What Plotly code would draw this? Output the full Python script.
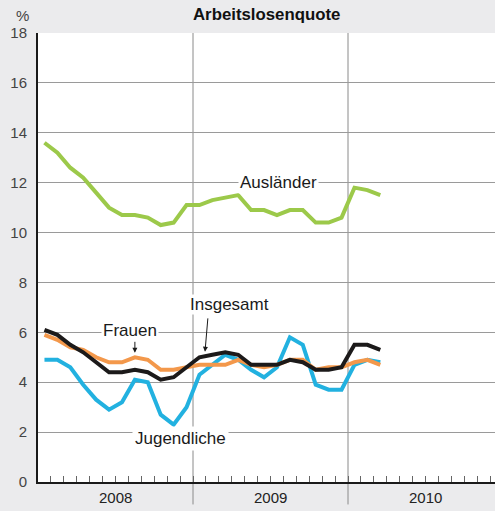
import plotly.graph_objects as go

# months Jan 2008 .. Mar 2010, plotted at month centres
months = [i + 0.5 for i in range(27)]
years = ["2008", "2009", "2010"]
y_ticks = [0, 2, 4, 6, 8, 10, 12, 14, 16, 18]

auslaender = [13.6, 13.2, 12.6, 12.2, 11.6, 11.0, 10.7, 10.7, 10.6, 10.3, 10.4, 11.1,
              11.1, 11.3, 11.4, 11.5, 10.9, 10.9, 10.7, 10.9, 10.9, 10.4, 10.4, 10.6,
              11.8, 11.7, 11.5]
insgesamt = [6.1, 5.9, 5.5, 5.2, 4.8, 4.4, 4.4, 4.5, 4.4, 4.1, 4.2, 4.6,
             5.0, 5.1, 5.2, 5.1, 4.7, 4.7, 4.7, 4.9, 4.8, 4.5, 4.5, 4.6,
             5.5, 5.5, 5.3]
frauen = [5.9, 5.7, 5.4, 5.3, 5.0, 4.8, 4.8, 5.0, 4.9, 4.5, 4.5, 4.6,
          4.7, 4.7, 4.7, 4.9, 4.7, 4.6, 4.7, 4.9, 4.9, 4.5, 4.6, 4.6,
          4.8, 4.9, 4.7]
jugendliche = [4.9, 4.9, 4.6, 3.9, 3.3, 2.9, 3.2, 4.1, 4.0, 2.7, 2.3, 3.0,
               4.3, 4.7, 5.1, 4.9, 4.5, 4.2, 4.6, 5.8, 5.5, 3.9, 3.7, 3.7,
               4.7, 4.9, 4.8]

series = [
    ("Ausländer", auslaender, "#9cc94a"),
    ("Jugendliche", jugendliche, "#22b1e0"),
    ("Frauen", frauen, "#f3984b"),
    ("Insgesamt", insgesamt, "#1c1a1a"),
]

fig = go.Figure()
for name, vals, col in series:
    fig.add_trace(go.Scatter(x=months, y=vals, mode="lines", name=name,
                             line=dict(color=col, width=4)))

font = "Liberation Sans, Arial, sans-serif"
xmax = 457 / (155 / 12)

fig.update_layout(
    width=495, height=511,
    margin=dict(l=38, r=0, t=33, b=29),
    paper_bgcolor="#ebebed", plot_bgcolor="white",
    showlegend=False,
    font=dict(family=font, size=15, color="#333"),
)
fig.update_xaxes(range=[0, xmax], showgrid=False, zeroline=False,
                 showline=True, linecolor="#1a1a1a", linewidth=2,
                 tickvals=list(range(1, 36)), ticks="inside", ticklen=6,
                 tickcolor="#666", tickwidth=1, showticklabels=False)
fig.update_yaxes(range=[0, 18], tickvals=y_ticks, showgrid=True,
                 gridcolor="#9a9a9a", gridwidth=1, zeroline=False,
                 showline=True, linecolor="#1a1a1a", linewidth=2,
                 ticks="", ticklabelstandoff=6, tickfont=dict(size=15, color="#444"))

# year dividers
for xv in [12, 24]:
    fig.add_shape(type="line", xref="x", yref="paper", x0=xv, x1=xv, y0=-0.05, y1=1,
                  line=dict(color="#8a8a8a", width=1), layer="below")

for k, yr in enumerate(years):
    fig.add_annotation(x=6 + 12 * k, y=-0.034, xref="x", yref="paper", text=yr,
                       yanchor="middle", showarrow=False, font=dict(size=15, color="#222"))

fig.add_annotation(x=0.5, y=1.042, xref="paper", yref="paper", text="<b>Arbeitslosenquote</b>",
                   xanchor="center", yanchor="middle", showarrow=False,
                   font=dict(size=16.8, color="#111"))
fig.add_annotation(x=-0.034, y=1.038, xref="paper", yref="paper", text="%",
                   xanchor="center", yanchor="middle", showarrow=False,
                   font=dict(size=15, color="#444"))

# series labels, white box cuts the grid line
lab = dict(showarrow=False, bgcolor="white", font=dict(size=17, color="#1a1a1a"))
fig.add_annotation(x=18.6, y=12.0, text="Ausländer", borderpad=1, **lab)
fig.add_annotation(x=7.15, y=6.08, text="Frauen", borderpad=1, **lab)
fig.add_annotation(x=14.8, y=7.12, text="Insgesamt", borderpad=0, **lab)
fig.add_annotation(x=11.05, y=1.76, text="Jugendliche", borderpad=2, **lab)

# arrows
arr = dict(text="", showarrow=True, axref="x", ayref="y", arrowhead=2,
           arrowsize=1, arrowwidth=1, arrowcolor="#1a1a1a")
fig.add_annotation(x=7.5, y=5.18, ax=7.5, ay=5.68, **arr)
fig.add_annotation(x=12.93, y=5.22, ax=13.16, ay=6.62, **arr)

fig.write_html("out.html", config={"displayModeBar": False},
               post_script="document.body.style.margin='0';document.body.style.background='#ebebed';")
